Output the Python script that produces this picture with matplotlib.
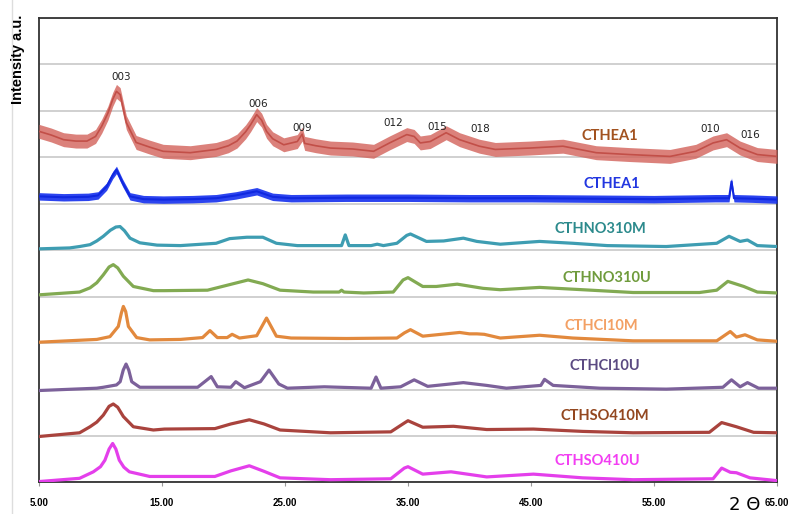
import matplotlib
matplotlib.use("Agg")
import matplotlib.pyplot as plt
from matplotlib.lines import Line2D

# readings: 2-theta and offset intensity for each pattern
red_x = [5.0, 6.0, 7.0, 8.0, 8.9, 9.6, 10.1, 10.6, 11.0, 11.3, 11.6, 12.1, 12.9, 14.0, 15.1, 17.3, 19.4, 20.4,
         21.1, 21.8, 22.2, 22.7, 23.1, 23.5, 24.0, 24.9, 26.0, 26.4, 26.6, 27.5, 28.7, 30.5, 32.2, 33.5, 34.9,
         35.5, 36.0, 36.8, 38.1, 39.2, 40.8, 42.1, 44.9, 47.6, 50.3, 53.0, 56.3, 58.4, 59.8, 60.9, 62.0, 63.4, 65.0]
red_y = [7.56, 7.48, 7.38, 7.35, 7.35, 7.45, 7.67, 7.95, 8.25, 8.42, 8.35, 7.75, 7.32, 7.22, 7.13, 7.10, 7.17, 7.25,
         7.35, 7.55, 7.70, 7.92, 7.80, 7.56, 7.40, 7.27, 7.34, 7.50, 7.30, 7.25, 7.20, 7.18, 7.13, 7.31, 7.49,
         7.45, 7.31, 7.34, 7.53, 7.38, 7.24, 7.17, 7.20, 7.24, 7.10, 7.06, 7.02, 7.13, 7.31, 7.38, 7.20, 7.06, 7.02]
red_noise = 0.15

blue_x = [5.0, 7.0, 9.0, 9.8, 10.5, 11.0, 11.3, 11.8, 12.4, 13.5, 15.1, 17.5, 19.4, 21.0, 22.7, 24.0, 25.5, 30.0,
          35.0, 40.0, 45.0, 50.0, 55.0, 60.0, 61.1, 61.3, 61.5, 63.0, 65.0]
blue_y = [6.16, 6.14, 6.15, 6.18, 6.37, 6.62, 6.73, 6.45, 6.16, 6.10, 6.09, 6.10, 6.12, 6.18, 6.27, 6.15, 6.12, 6.13,
          6.13, 6.12, 6.12, 6.11, 6.10, 6.12, 6.12, 6.48, 6.12, 6.11, 6.09]
blue_noise = 0.08

teal_x = [5.0, 7.5, 8.3, 9.15, 9.7, 10.23, 10.8, 11.25, 11.59, 11.95, 12.4, 13.2, 14.6, 16.5, 19.4, 20.5, 21.9,
          23.2, 24.3, 26.0, 29.6, 29.9, 30.2, 32.0, 32.5, 33.0, 34.1, 34.9, 35.2, 36.5, 37.9, 39.5, 40.6, 42.5,
          45.7, 48.4, 51.2, 56.0, 60.1, 61.1, 62.0, 62.6, 63.4, 65.0]
teal_y = [5.03, 5.05, 5.08, 5.12, 5.20, 5.30, 5.43, 5.50, 5.51, 5.42, 5.26, 5.16, 5.11, 5.10, 5.15, 5.25, 5.28,
          5.28, 5.15, 5.10, 5.10, 5.33, 5.10, 5.10, 5.13, 5.10, 5.15, 5.32, 5.35, 5.19, 5.20, 5.26, 5.19, 5.13,
          5.19, 5.15, 5.10, 5.08, 5.15, 5.30, 5.19, 5.22, 5.10, 5.08]

green_x = [5.0, 8.3, 9.15, 9.7, 10.23, 10.7, 11.04, 11.4, 11.86, 12.67, 14.3, 15.2, 18.7, 20.5, 22.0, 23.2, 24.6,
           27.3, 29.4, 29.6, 29.8, 31.4, 33.8, 34.6, 35.0, 36.2, 37.3, 39.0, 41.1, 42.5, 45.7, 49.2, 53.3, 58.7,
           60.1, 61.0, 62.3, 63.4, 65.0]
green_y = [4.04, 4.10, 4.19, 4.30, 4.47, 4.64, 4.69, 4.62, 4.44, 4.22, 4.13, 4.13, 4.14, 4.26, 4.36, 4.28, 4.14,
           4.10, 4.10, 4.14, 4.10, 4.08, 4.10, 4.36, 4.41, 4.22, 4.22, 4.27, 4.18, 4.15, 4.20, 4.15, 4.09, 4.09,
           4.14, 4.33, 4.22, 4.10, 4.08]

orange_x = [5.0, 9.7, 10.77, 11.45, 11.7, 11.86, 12.05, 12.27, 12.94, 14.0, 16.5, 18.3, 18.9, 19.5, 20.3, 20.7,
            21.3, 22.7, 23.5, 24.3, 25.5, 30.0, 34.1, 34.7, 35.2, 36.2, 39.2, 40.0, 40.6, 41.2, 42.5, 45.7, 48.4,
            53.3, 60.1, 61.2, 61.7, 62.4, 63.4, 65.0]
orange_y = [3.02, 3.08, 3.14, 3.36, 3.65, 3.79, 3.68, 3.36, 3.12, 3.07, 3.08, 3.12, 3.27, 3.12, 3.12, 3.19, 3.11,
            3.16, 3.54, 3.15, 3.11, 3.10, 3.11, 3.22, 3.29, 3.15, 3.23, 3.20, 3.20, 3.19, 3.11, 3.17, 3.11, 3.05,
            3.05, 3.25, 3.13, 3.18, 3.07, 3.04]

purple_x = [5.0, 9.7, 10.23, 11.3, 11.6, 11.85, 12.08, 12.3, 12.54, 13.2, 17.9, 19.0, 19.5, 20.6, 21.0, 21.7, 23.0,
            23.7, 24.5, 25.2, 28.2, 32.0, 32.4, 32.8, 34.4, 35.5, 36.6, 39.5, 41.4, 43.0, 45.8, 46.1, 46.8, 50.6,
            56.0, 60.6, 61.3, 62.0, 62.6, 63.5, 65.0]
purple_y = [1.98, 2.03, 2.05, 2.10, 2.17, 2.42, 2.55, 2.42, 2.17, 2.05, 2.05, 2.28, 2.06, 2.05, 2.17, 2.04, 2.17,
            2.42, 2.12, 2.03, 2.06, 2.03, 2.27, 2.03, 2.06, 2.21, 2.07, 2.15, 2.09, 2.03, 2.09, 2.22, 2.09, 2.03,
            2.01, 2.05, 2.21, 2.06, 2.15, 2.03, 2.03]

brown_x = [5.0, 8.3, 9.15, 9.7, 10.23, 10.7, 11.04, 11.4, 11.86, 12.67, 14.3, 15.2, 19.3, 20.6, 22.1, 23.3, 24.6,
           28.7, 33.6, 34.7, 35.0, 36.2, 38.7, 41.4, 45.2, 49.2, 53.3, 59.5, 60.5, 61.7, 63.1, 65.0]
brown_y = [0.99, 1.07, 1.20, 1.30, 1.45, 1.64, 1.69, 1.62, 1.42, 1.20, 1.13, 1.15, 1.16, 1.26, 1.35, 1.26, 1.13,
           1.07, 1.09, 1.28, 1.33, 1.19, 1.21, 1.14, 1.15, 1.10, 1.07, 1.08, 1.29, 1.20, 1.08, 1.07]

pink_x = [5.0, 8.3, 9.42, 10.0, 10.36, 10.7, 10.99, 11.25, 11.53, 11.9, 12.35, 14.0, 19.3, 20.6, 22.1, 23.3, 24.6,
          28.7, 33.6, 34.7, 35.0, 36.2, 38.5, 41.4, 45.2, 49.2, 53.3, 59.8, 60.5, 61.2, 61.7, 62.8, 65.0]
pink_y = [0.02, 0.09, 0.23, 0.34, 0.48, 0.72, 0.84, 0.72, 0.48, 0.33, 0.23, 0.13, 0.13, 0.25, 0.36, 0.24, 0.10,
          0.06, 0.08, 0.31, 0.34, 0.18, 0.23, 0.12, 0.18, 0.10, 0.06, 0.08, 0.31, 0.22, 0.21, 0.10, 0.04]

names = ["CTHEA1", "CTHEA1", "CTHNO310M", "CTHNO310U", "CTHCl10M", "CTHCl10U", "CTHSO410M", "CTHSO410U"]
name_x = [51.4, 51.6, 50.6, 51.2, 50.7, 51.0, 51.0, 50.4]
name_y = [7.47, 6.43, 5.46, 4.41, 3.37, 2.51, 1.43, 0.46]

hkl = ["003", "006", "009", "012", "015", "018", "010", "016"]
hkl_x = [11.7, 22.8, 26.4, 33.8, 37.4, 40.9, 59.6, 62.8]
hkl_y = [8.74, 8.14, 7.64, 7.73, 7.66, 7.62, 7.60, 7.49]

xticks = [5, 15, 25, 35, 45, 55, 65]

fig = plt.figure(figsize=(7.89, 5.14), dpi=100)
ax = fig.add_axes([0.0494, 0.0613, 0.9354, 0.9037])

ax.fill_between(red_x, [v - red_noise for v in red_y], [v + red_noise for v in red_y],
                color="#D2625A", alpha=0.8, lw=0, zorder=3)
ax.plot(red_x, red_y, color="#C24F48", lw=1.2, zorder=4)
ax.fill_between(blue_x, [v - blue_noise for v in blue_y], [v + blue_noise for v in blue_y],
                color="#1530EE", alpha=0.9, lw=0, zorder=3)
ax.plot(blue_x, blue_y, color="#1028E0", lw=1.5, zorder=4)

smooth = [(teal_x, teal_y, "#3E9DB2"), (green_x, green_y, "#82AA52"), (orange_x, orange_y, "#E2893D"),
          (purple_x, purple_y, "#7C619A"), (brown_x, brown_y, "#A9433D"), (pink_x, pink_y, "#E43FEB")]
for xs, ys, c in smooth:
    ax.plot(xs, ys, color=c, lw=2.3, solid_joinstyle="round", solid_capstyle="round", zorder=3)

name_colors = ["#A2521F", "#2236E0", "#2C8A8C", "#6F9B3C", "#F3A064", "#5B4A82", "#93471F", "#F23EF2"]
for t, x, y, c in zip(names, name_x, name_y, name_colors):
    ax.text(x, y, t, color=c, fontsize=10.5, fontweight="bold", family="Lato",
            ha="center", va="center", zorder=5)

for t, x, y in zip(hkl, hkl_x, hkl_y):
    ax.text(x, y, t, fontsize=7.5, ha="center", va="center", color="#222222", zorder=5)

ax.set_xlim(5, 65)
ax.set_ylim(0, 10)
ax.set_xticks(xticks)
ax.set_xticklabels([f"{v:.2f}" for v in xticks], fontsize=7, fontweight="bold", family="Liberation Sans")
ax.set_yticks(range(0, 11))
ax.set_yticklabels([])
ax.tick_params(axis="y", length=0)
ax.tick_params(axis="x", length=3, color="#999999", pad=8)
ax.grid(axis="y", color="#C8C8C8", lw=1.2)
ax.set_axisbelow(True)
for s in ax.spines.values():
    s.set_color("#333333")
    s.set_linewidth(1.3)

fig.text(0.023, 0.885, "Intensity a.u.", rotation=90, fontsize=10.5, fontweight="bold",
         family="Liberation Sans", ha="center", va="center")
fig.text(0.944, 0.008, "2 Θ", fontsize=13, family="DejaVu Sans", ha="center", va="baseline")
fig.add_artist(Line2D([0.0155, 0.0155], [0.0, 1.0], color="#DDDDDD", lw=1))

fig.savefig("out.png", dpi=100)
